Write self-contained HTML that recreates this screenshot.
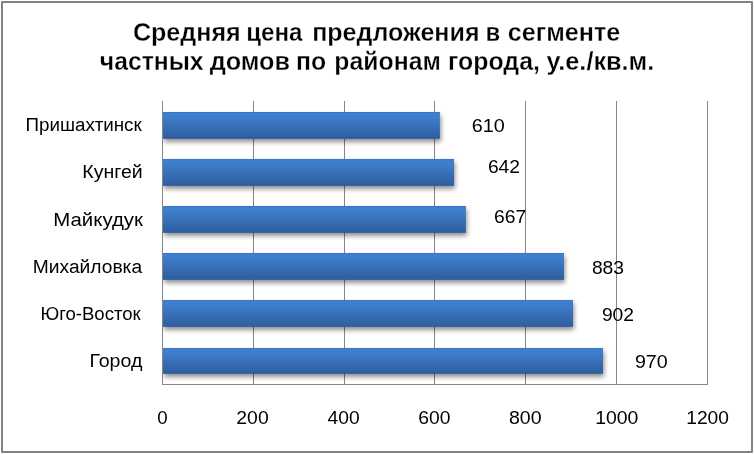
<!DOCTYPE html>
<html lang="ru">
<head>
<meta charset="utf-8">
<title>Средняя цена предложения в сегменте частных домов</title>
<style>
html,body{margin:0;padding:0;background:#fff;}
body{width:754px;height:454px;overflow:hidden;}
svg{display:block;}
text{font-family:"Liberation Sans",sans-serif;fill:#000;}
.t{font-weight:bold;font-size:25px;stroke:#fff;stroke-width:0.3px;}
.c{font-size:18.0px;}
.d{font-size:18.5px;}
</style>
</head>
<body>
<svg width="754" height="454" viewBox="0 0 754 454">
<defs>
<linearGradient id="g" x1="0" y1="0" x2="0" y2="1">
<stop offset="0" stop-color="#3474c6"/>
<stop offset="0.05" stop-color="#3f7fcf"/>
<stop offset="0.2" stop-color="#3e7dcb"/>
<stop offset="0.6" stop-color="#366db3"/>
<stop offset="0.95" stop-color="#2d60a1"/>
<stop offset="1" stop-color="#255291"/>
</linearGradient>
<filter id="sh" x="-5%" y="-30%" width="110%" height="190%">
<feGaussianBlur in="SourceAlpha" stdDeviation="2.9"/>
<feOffset dx="0.5" dy="3.2" result="b"/>
<feComponentTransfer><feFuncA type="linear" slope="0.46"/></feComponentTransfer>
<feMerge><feMergeNode/><feMergeNode in="SourceGraphic"/></feMerge>
</filter>
<clipPath id="pc"><rect x="163" y="100" width="600" height="284"/></clipPath>
</defs>
<rect x="0" y="0" width="754" height="454" fill="#fff"/>

<rect x="2" y="2" width="750" height="450" fill="none" stroke="#828282" stroke-width="2" stroke-linejoin="round"/>
<g stroke="#868686" stroke-width="1" shape-rendering="crispEdges">
<line x1="162.5" y1="101" x2="162.5" y2="385"/>
<line x1="253.5" y1="101" x2="253.5" y2="385"/>
<line x1="344.5" y1="101" x2="344.5" y2="385"/>
<line x1="434.5" y1="101" x2="434.5" y2="385"/>
<line x1="525.5" y1="101" x2="525.5" y2="385"/>
<line x1="616.5" y1="101" x2="616.5" y2="385"/>
<line x1="707.5" y1="101" x2="707.5" y2="385"/>
<line x1="162" y1="384.5" x2="708" y2="384.5"/>
</g>
<g clip-path="url(#pc)"><g filter="url(#sh)">
<rect x="163" y="112.00" width="276.90" height="26.80" fill="url(#g)"/>
<rect x="163" y="159.00" width="291.00" height="26.80" fill="url(#g)"/>
<rect x="163" y="206.00" width="302.90" height="26.80" fill="url(#g)"/>
<rect x="163" y="253.00" width="401.00" height="26.80" fill="url(#g)"/>
<rect x="163" y="300.00" width="410.00" height="26.80" fill="url(#g)"/>
<rect x="163" y="348.00" width="440.00" height="25.80" fill="url(#g)"/>
</g></g>
<text class="t" y="40.5"><tspan x="132.90" textLength="107.83" lengthAdjust="spacingAndGlyphs">Средняя</tspan> <tspan x="246.15" textLength="56.30" lengthAdjust="spacingAndGlyphs">цена</tspan> <tspan x="312.15" textLength="167.39" lengthAdjust="spacingAndGlyphs">предложения</tspan> <tspan x="485.50" textLength="14.74" lengthAdjust="spacingAndGlyphs">в</tspan> <tspan x="507.85" textLength="112.31" lengthAdjust="spacingAndGlyphs">сегменте</tspan></text>
<text class="t" y="69.6"><tspan x="99.80" textLength="103.75" lengthAdjust="spacingAndGlyphs">частных</tspan> <tspan x="209.65" textLength="80.29" lengthAdjust="spacingAndGlyphs">домов</tspan> <tspan x="295.95" textLength="30.12" lengthAdjust="spacingAndGlyphs">по</tspan> <tspan x="334.35" textLength="106.42" lengthAdjust="spacingAndGlyphs">районам</tspan> <tspan x="448.10" textLength="91.78" lengthAdjust="spacingAndGlyphs">города,</tspan> <tspan x="546.50" textLength="107.76" lengthAdjust="spacingAndGlyphs">у.е./кв.м.</tspan></text>
<text class="c" x="25.50" y="131.2" textLength="116.24" lengthAdjust="spacingAndGlyphs">Пришахтинск</text>
<text class="c" x="82.30" y="177.9" textLength="60.35" lengthAdjust="spacingAndGlyphs">Кунгей</text>
<text class="c" x="53.30" y="226.3" textLength="89.65" lengthAdjust="spacingAndGlyphs">Майкудук</text>
<text class="c" x="32.75" y="273.3" textLength="109.39" lengthAdjust="spacingAndGlyphs">Михайловка</text>
<text class="c" x="40.40" y="320.0" textLength="100.29" lengthAdjust="spacingAndGlyphs">Юго-Восток</text>
<text class="c" x="89.40" y="366.7" textLength="53.00" lengthAdjust="spacingAndGlyphs">Город</text>
<text class="d" x="471.65" y="131.8" textLength="33.10" lengthAdjust="spacingAndGlyphs">610</text>
<text class="d" x="487.90" y="172.9" textLength="32.14" lengthAdjust="spacingAndGlyphs">642</text>
<text class="d" x="493.90" y="223.0" textLength="32.24" lengthAdjust="spacingAndGlyphs">667</text>
<text class="d" x="591.90" y="273.8" textLength="32.14" lengthAdjust="spacingAndGlyphs">883</text>
<text class="d" x="601.90" y="321.0" textLength="32.14" lengthAdjust="spacingAndGlyphs">902</text>
<text class="d" x="634.90" y="368.0" textLength="32.84" lengthAdjust="spacingAndGlyphs">970</text>
<text class="d" x="157.30" y="424.0" textLength="10.42" lengthAdjust="spacingAndGlyphs">0</text>
<text class="d" x="236.35" y="424.0" textLength="32.34" lengthAdjust="spacingAndGlyphs">200</text>
<text class="d" x="327.55" y="424.0" textLength="32.12" lengthAdjust="spacingAndGlyphs">400</text>
<text class="d" x="418.35" y="424.0" textLength="32.24" lengthAdjust="spacingAndGlyphs">600</text>
<text class="d" x="508.95" y="424.0" textLength="32.64" lengthAdjust="spacingAndGlyphs">800</text>
<text class="d" x="595.25" y="424.0" textLength="43.16" lengthAdjust="spacingAndGlyphs">1000</text>
<text class="d" x="686.20" y="424.0" textLength="42.76" lengthAdjust="spacingAndGlyphs">1200</text>
</svg>
</body>
</html>
